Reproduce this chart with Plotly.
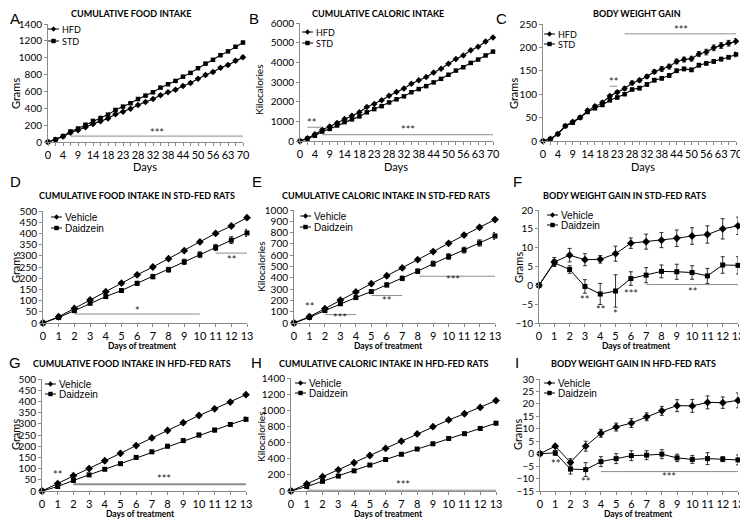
import plotly.graph_objects as go

# the page puts the figure 8px in from the window corner, so the figure is
# made 8px smaller and every pixel position below is given in window pixels
OFF = 8
W, H = 748 - OFF, 520 - OFF
FONT = "Lato, Liberation Sans, sans-serif"
ARIAL = "Liberation Sans, Arial, sans-serif"
AXIS_GREY = "#8a8a8a"
SIG_GREY = "#8c8c8c"

# ---------------- data: 70-day period (panels A-C) ----------------
DAYS = [0, 2, 4, 7, 9, 11, 14, 16, 18, 21, 23, 25, 28, 30, 32, 35, 38, 41,
        44, 47, 50, 53, 56, 60, 63, 67, 70]

food_hfd = [0, 28, 65, 110, 140, 175, 215, 245, 280, 330, 360, 395, 440, 475,
            510, 555, 590, 620, 665, 700, 750, 795, 830, 880, 915, 965, 1005]
food_hfd_err = [0, 2, 3, 4, 4, 5, 5, 6, 6, 7, 7, 8, 8, 9, 9, 10, 10, 11, 11,
                12, 12, 13, 14, 15, 16, 17, 18]
food_std = [0, 30, 70, 125, 160, 205, 250, 285, 325, 380, 420, 460, 510, 550,
            590, 645, 685, 725, 775, 820, 875, 930, 975, 1030, 1075, 1130, 1180]
food_std_err = [0, 2, 3, 4, 4, 5, 5, 5, 6, 6, 7, 7, 8, 8, 8, 9, 9, 10, 10,
                11, 11, 12, 12, 13, 13, 14, 15]

kcal_hfd = [0, 145, 340, 575, 735, 915, 1125, 1285, 1465, 1730, 1885, 2070,
            2305, 2490, 2670, 2910, 3090, 3250, 3485, 3670, 3930, 4165, 4350,
            4610, 4795, 5055, 5265]
kcal_std = [0, 115, 270, 480, 615, 790, 960, 1100, 1250, 1460, 1620, 1770,
            1960, 2120, 2270, 2480, 2640, 2790, 2980, 3160, 3370, 3580, 3750,
            3970, 4140, 4350, 4545]

gain_hfd = [0, 5, 15, 32, 41, 50, 65, 74, 82, 96, 104, 112, 124, 130, 138,
            148, 154, 159, 170, 174, 176, 186, 190, 199, 204, 209, 213]
gain_hfd_err = [0, 1, 2, 2, 2, 2, 3, 3, 3, 3, 3, 4, 4, 4, 4, 4, 5, 5, 5, 5,
                5, 5, 6, 6, 6, 6, 6]
gain_std = [0, 4, 15, 32, 39, 50, 62, 70, 77, 87, 93, 100, 110, 113, 121,
            130, 134, 140, 150, 154, 152, 162, 166, 170, 175, 179, 185]
gain_std_err = [0, 1, 2, 2, 2, 2, 2, 3, 3, 3, 3, 3, 3, 4, 4, 4, 4, 4, 4, 4,
                4, 4, 4, 4, 4, 4, 5]

DAY_LABELS = [str(d) if i % 2 == 0 else "" for i, d in enumerate(DAYS)]

# ---------------- data: 13 days of treatment (panels D-I) ----------------
TREAT_DAYS = list(range(14))

std_food_veh = [0, 28, 65, 103, 140, 178, 215, 250, 287, 323, 362, 400, 433, 470]
std_food_veh_err = [0, 2, 3, 3, 4, 4, 4, 5, 5, 5, 6, 6, 6, 7]
std_food_dai = [0, 25, 55, 88, 118, 145, 177, 207, 238, 273, 305, 337, 370, 402]
std_food_dai_err = [0, 3, 5, 6, 7, 8, 9, 10, 11, 12, 13, 14, 15, 16]

std_kcal_veh = [0, 57, 127, 203, 275, 348, 418, 487, 560, 632, 705, 778, 847, 915]
std_kcal_veh_err = [0, 4, 6, 7, 8, 8, 9, 10, 10, 11, 12, 12, 13, 14]
std_kcal_dai = [0, 50, 110, 170, 225, 278, 337, 395, 458, 525, 588, 645, 708, 770]
std_kcal_dai_err = [0, 6, 9, 12, 14, 16, 18, 20, 21, 23, 25, 26, 28, 30]

std_gain_veh = [0, 6.2, 8.0, 6.8, 6.9, 8.4, 11.2, 11.6, 12.0, 12.5, 13.1, 13.5, 15.0, 15.8]
std_gain_veh_err = [0, 1.2, 1.8, 1.6, 1.0, 2.0, 1.4, 2.0, 2.0, 2.2, 2.2, 2.3, 2.7, 2.3]
std_gain_dai = [0, 6.0, 4.2, -0.3, -2.3, -1.5, 1.8, 2.7, 3.7, 3.6, 3.4, 2.5, 5.4, 5.3]
std_gain_dai_err = [0, 0.8, 1.0, 1.8, 2.8, 4.3, 1.8, 2.0, 1.7, 2.0, 1.8, 2.0, 2.2, 2.3]

hfd_food_veh = [0, 33, 68, 100, 135, 168, 203, 237, 270, 305, 337, 367, 397, 430]
hfd_food_veh_err = [0, 2, 3, 3, 4, 4, 4, 5, 5, 5, 5, 6, 6, 6]
hfd_food_dai = [0, 20, 47, 72, 97, 122, 150, 175, 200, 225, 250, 272, 297, 320]
hfd_food_dai_err = [0, 3, 4, 4, 5, 5, 6, 6, 7, 7, 8, 8, 9, 10]

hfd_kcal_veh = [0, 88, 178, 262, 350, 440, 527, 617, 707, 797, 880, 957, 1035, 1120]
hfd_kcal_veh_err = [0, 6, 8, 9, 10, 11, 12, 13, 14, 15, 16, 17, 18, 19]
hfd_kcal_dai = [0, 55, 120, 185, 250, 322, 390, 455, 520, 585, 650, 710, 775, 840]
hfd_kcal_dai_err = [0, 8, 10, 11, 12, 13, 14, 15, 16, 17, 18, 19, 20, 22]

hfd_gain_veh = [0, 3.0, -3.5, 3.0, 8.2, 10.7, 12.3, 14.8, 17.2, 19.3, 19.2, 20.6, 20.5, 21.4]
hfd_gain_veh_err = [0, 0.5, 1.5, 2.0, 1.6, 1.6, 1.8, 1.6, 1.8, 2.4, 2.6, 2.6, 2.3, 3.0]
hfd_gain_dai = [0, 0.3, -6.2, -6.4, -3.2, -2.0, -0.8, -0.6, -0.2, -1.7, -2.3, -2.0, -2.2, -2.5]
hfd_gain_dai_err = [0, 1.0, 2.0, 2.8, 2.0, 2.0, 2.0, 1.8, 1.8, 1.5, 1.6, 2.4, 1.0, 2.0]

# significance bars (x0, x1, y) and labels (x, y, text)
sig_bars = {
    "A": [("7", "70", 70)],
    "B": [("2", "7", 700), ("7", "70", 320)],
    "C": [("21", "23", 117), ("25", "70", 229)],
    "D": [(2, 10, 40), (11, 13, 312)],
    "E": [(2, 4, 74), (5, 7, 243), (8.1, 13, 414)],
    "F": [(7, 13, 0.2)],
    "G": [(2, 13, 30)],
    "H": [(1, 13, 10)],
    "I": [(4, 13, -7.2)],
}
sig_labels = {
    "A": [(14.5, 118, "***")],
    "B": [(1.5, 950, "**"), (14.6, 560, "***")],
    "C": [(9.5, 127, "**"), (18.6, 238, "***")],
    "D": [(6, 55, "*"), (12, 285, "**")],
    "E": [(1, 148, "**"), (3, 45, "***"), (6, 200, "**"), (10.3, 385, "***")],
    "F": [(3, -3.8, "**"), (4, -6.3, "**"), (5, -7.6, "*"), (6, -2.1, "***"), (10, -1.6, "**")],
    "G": [(1, 75, "**"), (7.8, 54, "***")],
    "H": [(7.1, 83, "***")],
    "I": [(1, -3.8, "**"), (3, -11.3, "**"), (8.5, -9.2, "***")],
}

# panel layout, in window pixels: plot box (x0, x1, ytop, ybottom)
panels = [
    dict(key="A", box=(48, 243, 24, 142), title="CUMULATIVE FOOD INTAKE", tcx=131, ty=13,
         letter=(15, 18), ylab="Grams", ylx=15, yly=94, xlab="Days", xlx=145, xly=166,
         yr=(0, 1400), dt=200, long=True, leg=(48, 29, 12), names=("HFD", "STD"),
         series=((food_hfd, food_hfd_err), (food_std, food_std_err))),
    dict(key="B", box=(300, 493, 23, 141), title="CUMULATIVE CALORIC INTAKE", tcx=378, ty=13,
         letter=(254, 18), ylab="Kilocalories", ylx=259, yly=90, xlab="Days", xlx=396, xly=166,
         yr=(0, 6000), dt=1000, long=True, leg=(302, 32, 11), names=("HFD", "STD"),
         series=((kcal_hfd, None), (kcal_std, None))),
    dict(key="C", box=(543, 736, 24, 141), title="BODY WEIGHT GAIN", tcx=637, ty=13,
         letter=(502, 18), ylab="Grams", ylx=513, yly=94, xlab="Days", xlx=643, xly=166,
         yr=(0, 250), dt=50, long=True, leg=(544, 34, 10), names=("HFD", "STD"),
         series=((gain_hfd, gain_hfd_err), (gain_std, gain_std_err))),
    dict(key="D", box=(43, 247, 211, 323), title="CUMULATIVE FOOD INTAKE IN STD-FED RATS", tcx=137, ty=195,
         letter=(15, 181), ylab="Grams", ylx=15, yly=268, xlab="Days of treatment", xlx=142, xly=346,
         yr=(0, 500), dt=50, long=False, leg=(51, 217, 11), names=("Vehicle", "Daidzein"),
         series=((std_food_veh, std_food_veh_err), (std_food_dai, std_food_dai_err))),
    dict(key="E", box=(294, 495, 210, 323), title="CUMULATIVE CALORIC INTAKE IN STD-FED RATS", tcx=386, ty=195,
         letter=(257, 181), ylab="Kilocalories", ylx=261, yly=267, xlab="Days of treatment", xlx=388, xly=346,
         yr=(0, 1000), dt=100, long=False, leg=(300, 216, 11), names=("Vehicle", "Daidzein"),
         series=((std_kcal_veh, std_kcal_veh_err), (std_kcal_dai, std_kcal_dai_err))),
    dict(key="F", box=(539, 738, 210, 323), title="BODY WEIGHT GAIN IN STD-FED RATS", tcx=624, ty=195,
         letter=(517, 181), ylab="Grams", ylx=518, yly=267, xlab="Days of treatment", xlx=636, xly=346,
         yr=(-10, 20), dt=5, long=False, leg=(547, 215, 10), names=("Vehicle", "Daidzein"),
         series=((std_gain_veh, std_gain_veh_err), (std_gain_dai, std_gain_dai_err))),
    dict(key="G", box=(42, 246, 379, 491), title="CUMULATIVE FOOD INTAKE IN HFD-FED RATS", tcx=132, ty=363,
         letter=(15, 362), ylab="Grams", ylx=15, yly=435, xlab="Days of treatment", xlx=140, xly=514,
         yr=(0, 500), dt=50, long=False, leg=(45, 384, 10), names=("Vehicle", "Daidzein"),
         series=((hfd_food_veh, hfd_food_veh_err), (hfd_food_dai, hfd_food_dai_err))),
    dict(key="H", box=(291, 496, 378, 491), title="CUMULATIVE CALORIC INTAKE IN HFD-FED RATS", tcx=384, ty=363,
         letter=(256, 362), ylab="Kilocalories", ylx=261, yly=437, xlab="Days of treatment", xlx=388, xly=514,
         yr=(0, 1400), dt=200, long=False, leg=(295, 383, 10), names=("Vehicle", "Daidzein"),
         series=((hfd_kcal_veh, hfd_kcal_veh_err), (hfd_kcal_dai, hfd_kcal_dai_err))),
    dict(key="I", box=(540, 738, 379, 491), title="BODY WEIGHT GAIN IN HFD-FED RATS", tcx=633, ty=363,
         letter=(517, 362), ylab="Grams", ylx=517, yly=435, xlab="Days of treatment", xlx=638, xly=514,
         yr=(-15, 30), dt=5, long=False, leg=(544, 383, 10), names=("Vehicle", "Daidzein"),
         series=((hfd_gain_veh, hfd_gain_veh_err), (hfd_gain_dai, hfd_gain_dai_err))),
]


def px(x):
    return (x - OFF) / W


def py(y):
    return 1 - (y - OFF) / H


def note(x, y, text, size, family=FONT, **kw):
    # paper-positioned text centred on (x, y) window pixels
    d = dict(x=px(x), y=py(y), xref="paper", yref="paper", text=text, showarrow=False,
             xanchor="center", yanchor="middle",
             font=dict(size=size, family=family, color="black"))
    d.update(kw)
    return d


fig = go.Figure()
shapes = []
annotations = []
layout_axes = {}

for n, p in enumerate(panels, start=1):
    sfx = "" if n == 1 else str(n)
    xa, ya = "x" + sfx, "y" + sfx
    x0, x1, yt, yb = p["box"]

    if p["long"]:
        xs = [str(d) for d in DAYS]
        xaxis = dict(type="category", categoryorder="array", categoryarray=xs,
                     range=[0, len(DAYS) - 1], tickmode="array",
                     tickvals=xs, ticktext=DAY_LABELS, tickfont=dict(size=11, family=FONT))
        msize = (5, 4.5)
        lw = 1.1
    else:
        xs = TREAT_DAYS
        xaxis = dict(range=[0, 13], dtick=1, tickfont=dict(size=11, family=FONT))
        msize = (6, 5)
        lw = 1.0

    xaxis.update(domain=[px(x0), px(x1)], anchor=ya, showline=True, linecolor=AXIS_GREY,
                 ticks="outside", ticklen=3, tickcolor=AXIS_GREY, showgrid=False,
                 zeroline=False, fixedrange=True, automargin=False, tickangle=0)
    yaxis = dict(domain=[py(yb), py(yt)], anchor=xa, range=list(p["yr"]), dtick=p["dt"],
                 showline=True, linecolor=AXIS_GREY, ticks="outside", ticklen=3,
                 tickcolor=AXIS_GREY, showgrid=False, zeroline=False, fixedrange=True,
                 automargin=False, tickfont=dict(size=10, family=FONT))
    layout_axes["xaxis" + sfx] = xaxis
    layout_axes["yaxis" + sfx] = yaxis

    # data series
    symbols = ("diamond", "square")
    for (vals, err), sym, ms, name in zip(p["series"], symbols, msize, p["names"]):
        tr = dict(x=xs, y=vals, mode="lines+markers", xaxis=xa, yaxis=ya, name=name,
                  line=dict(color="black", width=lw),
                  marker=dict(symbol=sym, size=ms, color="black"),
                  cliponaxis=False, showlegend=False)
        if err is not None:
            tr["error_y"] = dict(type="data", array=err, color="black", thickness=0.8, width=2)
        fig.add_trace(go.Scatter(**tr))

    # significance bars
    for (sx0, sx1, sy) in sig_bars[p["key"]]:
        fig.add_trace(go.Scatter(x=[sx0, sx1], y=[sy, sy], mode="lines", xaxis=xa, yaxis=ya,
                                 line=dict(color=SIG_GREY, width=2 if p["key"] == "G" else 1),
                                 hoverinfo="skip", showlegend=False))
    for (lx, ly, txt) in sig_labels[p["key"]]:
        annotations.append(dict(x=lx, y=ly, xref=xa, yref=ya, text=txt, showarrow=False,
                                xanchor="center", yanchor="middle",
                                font=dict(size=11, color="#222", family=FONT)))

    # legend drawn as small glyphs + text
    lx0, ly0, gap = p["leg"]
    for k, (sym, name) in enumerate(zip(symbols, p["names"])):
        yy = ly0 + k * gap
        shapes.append(dict(type="line", xref="paper", yref="paper", x0=px(lx0), x1=px(lx0 + 11),
                           y0=py(yy), y1=py(yy), line=dict(color="black", width=1)))
        cx = lx0 + 5.5
        if sym == "square":
            shapes.append(dict(type="rect", xref="paper", yref="paper", x0=px(cx - 2.2),
                               x1=px(cx + 2.2), y0=py(yy - 2.2), y1=py(yy + 2.2),
                               fillcolor="black", line=dict(width=0)))
        else:
            path = "M {} {} L {} {} L {} {} L {} {} Z".format(
                px(cx), py(yy - 2.8), px(cx + 2.5), py(yy), px(cx), py(yy + 2.8), px(cx - 2.5), py(yy))
            shapes.append(dict(type="path", xref="paper", yref="paper", path=path,
                               fillcolor="black", line=dict(width=0)))
        annotations.append(note(lx0 + 12, yy, name, 9 if p["long"] else 10,
                                FONT if p["long"] else ARIAL, xanchor="left"))

    # title, letter and axis titles
    annotations.append(note(p["tcx"], p["ty"], "<b>" + p["title"] + "</b>", 9))
    annotations.append(note(p["letter"][0], p["letter"][1], p["key"], 15, ARIAL))
    annotations.append(note(p["ylx"], p["yly"], p["ylab"],
                            11 if p["ylab"] == "Grams" else 10, textangle=-90))
    xlab_txt = p["xlab"] if p["long"] else "<b>" + p["xlab"] + "</b>"
    annotations.append(note(p["xlx"], p["xly"], xlab_txt, 11 if p["long"] else 8.5))

fig.update_layout(
    width=W, height=H,
    margin=dict(l=0, r=0, t=0, b=0),
    paper_bgcolor="white", plot_bgcolor="white",
    showlegend=False,
    font=dict(family=FONT, color="black"),
    shapes=shapes,
    annotations=annotations,
    **layout_axes,
)

fig.write_html("out.html")
